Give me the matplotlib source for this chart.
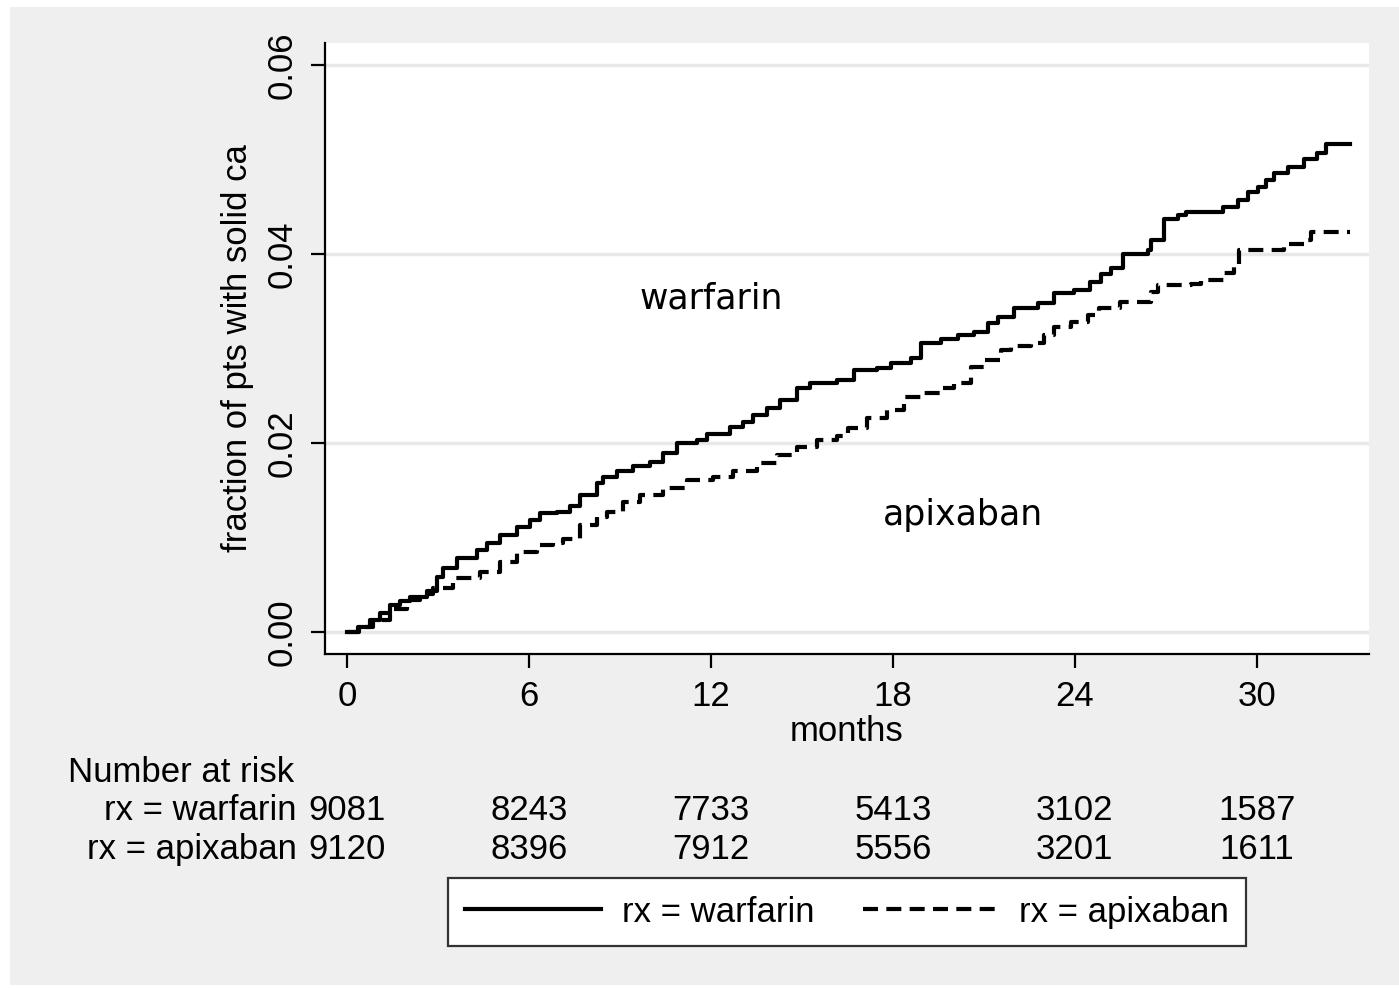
import matplotlib.pyplot as plt
from matplotlib.patches import Rectangle
import matplotlib.transforms as mtransforms

# cumulative fraction with solid cancer (months, fraction)
warf_t = [0, 0.35, 0.76, 1.1, 1.42, 1.75, 2.08, 2.64, 2.97, 3.17, 3.63, 4.29, 4.62, 5.05,
          5.61, 6.04, 6.37, 6.93, 7.36, 7.69, 8.25, 8.45, 8.91, 9.44, 10.0, 10.43, 10.89,
          11.55, 11.88, 12.64, 13.07, 13.4, 13.86, 14.29, 14.85, 15.28, 16.17, 16.7,
          17.49, 17.92, 18.58, 18.91, 19.57, 20.13, 20.66, 21.12, 21.45, 21.98, 22.77,
          23.3, 23.96, 24.5, 24.85, 25.18, 25.58, 26.4, 26.5, 26.93, 27.39, 27.66, 28.9,
          29.37, 29.7, 30.03, 30.3, 30.56, 31.02, 31.55, 32.0, 32.28, 33.07]
warf_y = [0, 0.0006, 0.0013, 0.002, 0.0029, 0.0033, 0.0037, 0.0044, 0.0058, 0.0068,
          0.0078, 0.0087, 0.0094, 0.0103, 0.0111, 0.0119, 0.0126, 0.0127, 0.0134,
          0.0145, 0.0158, 0.0164, 0.0171, 0.0176, 0.018, 0.0189, 0.02, 0.0203, 0.021,
          0.0217, 0.0222, 0.023, 0.0237, 0.0246, 0.0258, 0.0263, 0.0267, 0.0277,
          0.0279, 0.0285, 0.029, 0.0306, 0.031, 0.0314, 0.0317, 0.0327, 0.0333,
          0.0343, 0.0348, 0.0359, 0.0362, 0.037, 0.0379, 0.0385, 0.040, 0.0404,
          0.0415, 0.0437, 0.0441, 0.0444, 0.045, 0.0457, 0.0465, 0.0471, 0.0478,
          0.0486, 0.0492, 0.050, 0.0507, 0.0516, 0.0516]

apix_t = [0, 0.4, 0.86, 1.4, 1.98, 2.4, 2.84, 3.5, 4.39, 5.05, 5.61, 6.27, 6.8, 7.13,
          7.69, 8.25, 8.58, 9.11, 9.67, 10.43, 11.22, 12.08, 12.74, 13.53, 14.19, 14.85,
          15.51, 16.17, 16.53, 17.16, 17.82, 18.35, 18.91, 19.57, 20.0, 20.56, 20.99,
          21.55, 21.88, 22.54, 22.97, 23.3, 23.86, 24.42, 24.78, 25.5, 26.5, 26.73,
          27.82, 28.15, 28.91, 29.24, 29.4, 30.9, 31.55, 31.78, 33.07]
apix_y = [0, 0.0006, 0.0013, 0.0025, 0.0034, 0.004, 0.0047, 0.0057, 0.0064, 0.0074,
          0.0085, 0.0092, 0.0094, 0.0099, 0.0113, 0.0122, 0.0127, 0.0138, 0.0145,
          0.0152, 0.0161, 0.0164, 0.0171, 0.0179, 0.0187, 0.0196, 0.0203, 0.0208,
          0.0216, 0.0226, 0.0235, 0.0249, 0.0253, 0.0258, 0.0263, 0.028, 0.0288,
          0.0298, 0.0303, 0.0306, 0.0314, 0.0323, 0.0328, 0.0335, 0.0343, 0.0349,
          0.036, 0.0367, 0.0368, 0.0372, 0.038, 0.0386, 0.0404, 0.041, 0.0415,
          0.0423, 0.0423]

risk_times = [0, 6, 12, 18, 24, 30]
risk_warf = [9081, 8243, 7733, 5413, 3102, 1587]
risk_apix = [9120, 8396, 7912, 5556, 3201, 1611]

xticks = [0, 6, 12, 18, 24, 30]
yticks = [0.00, 0.02, 0.04, 0.06]

plt.rcParams['font.family'] = ['Liberation Sans', 'DejaVu Sans']
fs = 25

fig = plt.figure(figsize=(13.99, 9.88), dpi=100, facecolor='white')
# grey outer region like stata
fig.patches.append(Rectangle((10 / 1399, 3 / 988), 1, 978 / 988, transform=fig.transFigure,
                             facecolor='#efefef', edgecolor='none', zorder=-10))

ax = fig.add_axes([325 / 1399, 1 - 654 / 988, (1369 - 325) / 1399, (654 - 43) / 988])
ax.set_facecolor('white')

ax.plot(warf_t, warf_y, drawstyle='steps-post', color='black', lw=3,
        label='rx = warfarin', zorder=3)
ax.plot(apix_t, apix_y, drawstyle='steps-post', color='black', lw=3,
        dashes=(3.6, 2.0), label='rx = apixaban', zorder=3)

ax.set_xlim(-0.73, 33.7)
ax.set_ylim(-0.0023, 0.0623)
ax.set_xticks(xticks)
ax.set_yticks(yticks)
ax.set_yticklabels(['%.2f' % v for v in yticks], rotation=90, va='center')
for y in yticks:
    ax.axhline(y, color='#e8e8e8', lw=2.5, zorder=1)

for s in ['top', 'right']:
    ax.spines[s].set_visible(False)
for s in ['left', 'bottom']:
    ax.spines[s].set_linewidth(1.6)
ax.tick_params(length=10, width=1.6, pad=9, labelsize=fs)

ax.set_xlabel('months', fontsize=fs, labelpad=1)
ax.set_ylabel('fraction of pts with solid ca', fontsize=fs, labelpad=8)

ax.text(12.0, 0.0353, 'warfarin', fontsize=fs, ha='center', va='center',
        family='DejaVu Sans')
ax.text(20.3, 0.0124, 'apixaban', fontsize=fs, ha='center', va='center',
        family='DejaVu Sans')

# number at risk table
trans = mtransforms.blended_transform_factory(ax.transData, fig.transFigure)
fig.text(68 / 1399, 1 - 773 / 988, 'Number at risk', fontsize=fs, ha='left', va='center')
fig.text(297 / 1399, 1 - 811 / 988, 'rx = warfarin', fontsize=fs, ha='right', va='center')
fig.text(297 / 1399, 1 - 849 / 988, 'rx = apixaban', fontsize=fs, ha='right', va='center')
for t, w, a in zip(risk_times, risk_warf, risk_apix):
    ax.text(t, 1 - 811 / 988, str(w), transform=trans, fontsize=fs, ha='center', va='center')
    ax.text(t, 1 - 849 / 988, str(a), transform=trans, fontsize=fs, ha='center', va='center')

leg = fig.legend(loc='center', bbox_to_anchor=(847 / 1399, 1 - 912 / 988), ncol=2,
                 fontsize=fs, frameon=True, fancybox=False, framealpha=1,
                 handlelength=3.9, handletextpad=0.6, columnspacing=1.4, borderpad=0.5)
leg.get_frame().set_edgecolor('#333333')
leg.get_frame().set_linewidth(1.6)

fig.savefig('out.png', dpi=100, facecolor='white')
